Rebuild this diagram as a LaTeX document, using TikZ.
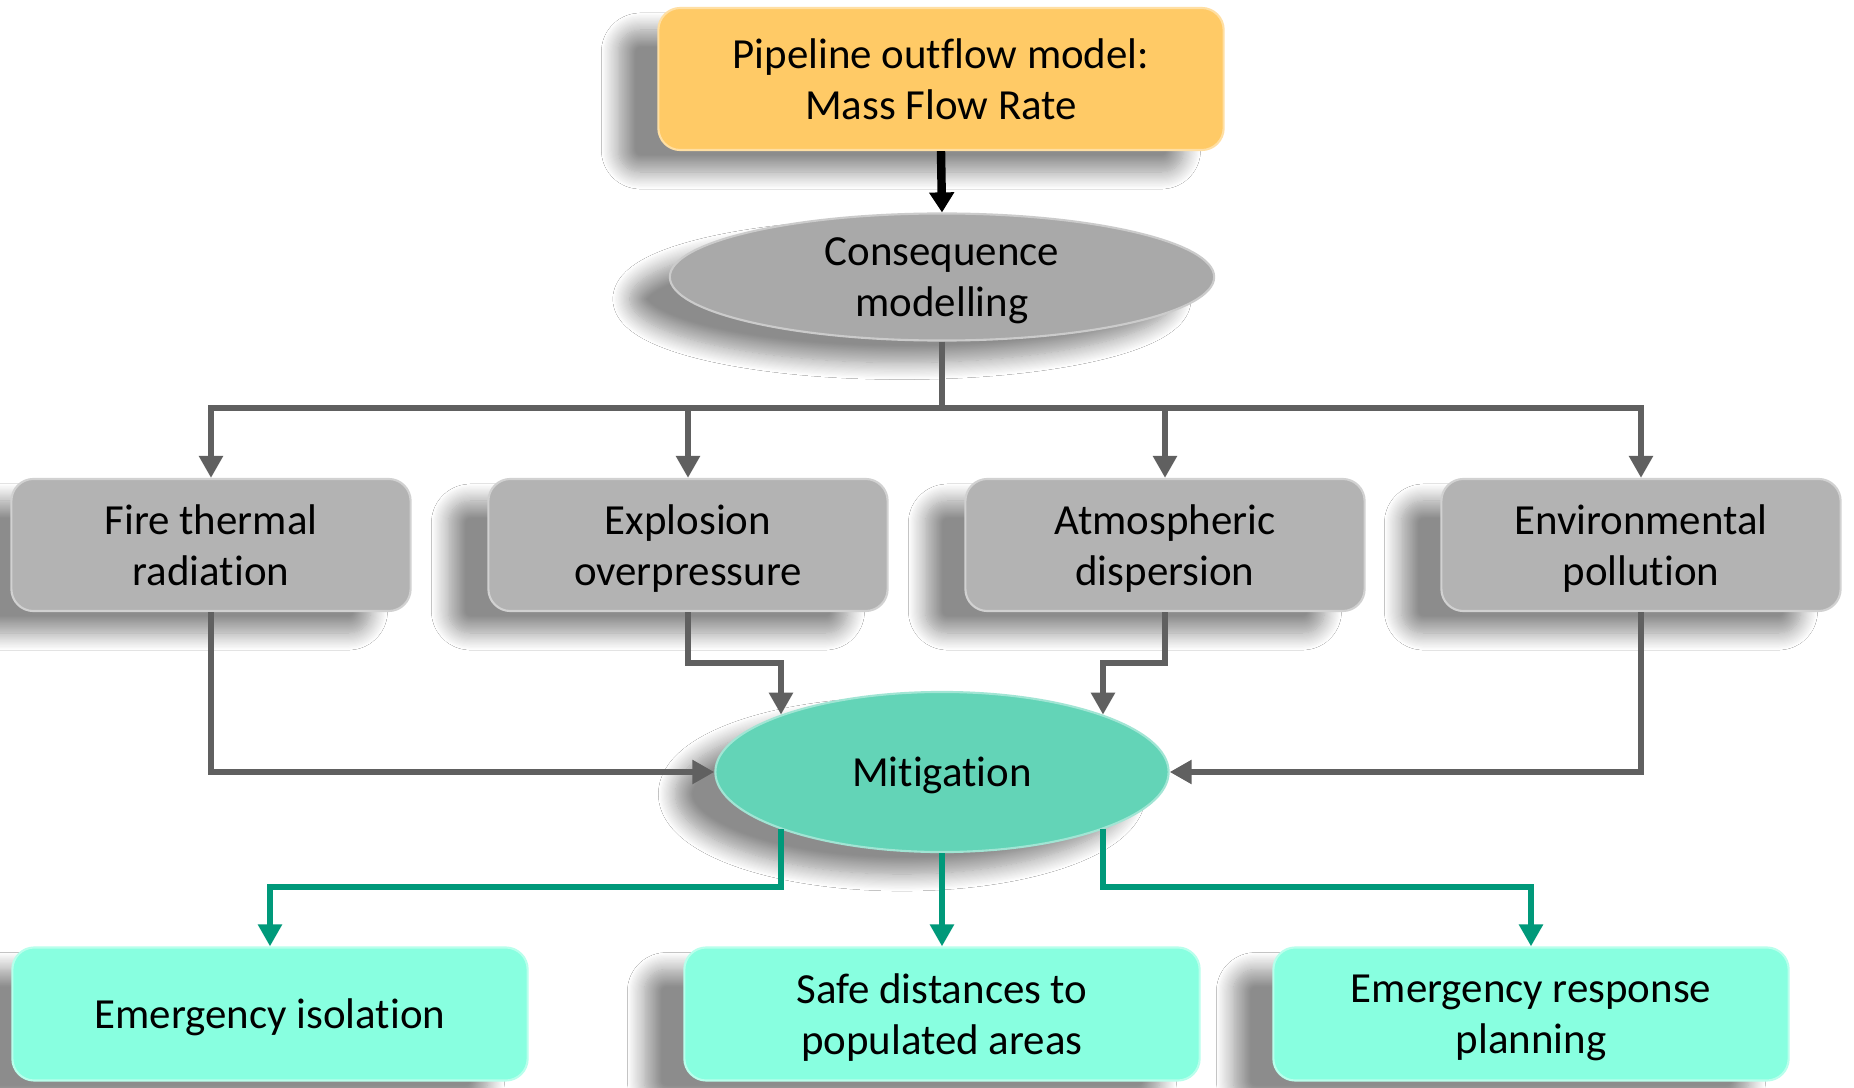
\documentclass[tikz,border=0pt]{standalone}
\usepackage{fontspec}
\setmainfont{Carlito}[Ligatures={NoCommon,NoContextual}]
\usetikzlibrary{shapes.geometric,arrows.meta,shadows.blur}
\definecolor{topfill}{HTML}{FFCA66}
\definecolor{grayfill}{HTML}{B3B3B3}
\definecolor{consfill}{HTML}{A9A9A9}
\definecolor{mitfill}{HTML}{63D4B7}
\definecolor{botfill}{HTML}{88FFE0}
\definecolor{greenline}{HTML}{00997A}
\definecolor{grayline}{HTML}{606060}
\newcommand{\nd}[1]{\raisebox{0pt}[\height][0pt]{#1}}
\tikzset{
  every node/.style={font=\fontsize{12.2}{14.6}\selectfont, align=center, text=black},
  softshadow/.style={blur shadow={shadow xshift=-0.4cm, shadow yshift=-0.22cm, shadow blur radius=0.17cm, shadow blur steps=16, shadow opacity=45}},
  rbox/.style={rectangle, rounded corners=0.22cm, inner sep=0pt, softshadow},
  topbox/.style={rbox, fill=topfill, draw=topfill!60!white, line width=0.6pt, minimum width=5.65cm, minimum height=1.42cm},
  midbox/.style={rbox, fill=grayfill, draw=grayfill!60!white, line width=0.6pt, minimum width=3.99cm, minimum height=1.32cm},
  botbox/.style={rbox, fill=botfill, draw=botfill!60!white, line width=0.6pt, minimum width=5.15cm, minimum height=1.33cm},
  consell/.style={ellipse, inner sep=0pt, fill=consfill, draw=consfill!60!white, line width=0.6pt, minimum width=5.44cm, minimum height=1.27cm, softshadow},
  mitell/.style={ellipse, inner sep=0pt, fill=mitfill, draw=mitfill!60!white, line width=0.6pt, minimum width=4.53cm, minimum height=1.60cm, softshadow},
  blackarrow/.style={draw=black, line width=2.4pt, -{Triangle[width=0.24cm,length=0.2cm]}},
  grayconn/.style={draw=grayline, line width=1.7pt},
  grayarrow/.style={grayconn, -{Triangle[width=0.23cm,length=0.22cm]}},
  greenarrow/.style={draw=greenline, line width=1.7pt, -{Triangle[width=0.23cm,length=0.22cm]}},
}
\begin{document}
\begin{tikzpicture}[x=0.01cm, y=-0.01cm]
\useasboundingbox[fill=white] (0,0) rectangle (1854,1088);

\node[topbox] (top) at (941,79) {Pipeline outflow model:\\Mass Flow Rate};
\node[consell] (cons) at (942,277) {Consequence\\\nd{modelling}};

\node[midbox] (fire) at (211,545) {Fire thermal\\radiation};
\node[midbox] (expl) at (688,545) {Explosion\\\nd{overpressure}};
\node[midbox] (atmo) at (1165,545) {Atmospheric\\\nd{dispersion}};
\node[midbox] (env) at (1641,545) {Environmental\\\nd{pollution}};

\node[mitell] (mit) at (942,772) {\nd{Mitigation}};

\node[botbox] (iso) at (270,1014) {\nd{Emergency isolation}};
\node[botbox] (safe) at (942,1014) {Safe distances to\\\nd{populated areas}};
\node[botbox] (resp) at (1531,1014) {Emergency response\\\nd{planning}};

\coordinate (bus) at (942,408);

\draw[blackarrow] (top.south) -- (cons.north);
\draw[grayconn] (cons.south) -- (bus);
\draw[grayarrow] (bus) -| (fire.north);
\draw[grayarrow] (bus) -| (expl.north);
\draw[grayarrow] (bus) -| (atmo.north);
\draw[grayarrow] (bus) -| (env.north);

\draw[grayarrow] (fire.south) |- (mit.west);
\draw[grayarrow] (env.south) |- (mit.east);
\draw[grayarrow] (expl.south) -- ++(0,51) -| (mit.north west);
\draw[grayarrow] (atmo.south) -- ++(0,51) -| (mit.north east);

\draw[greenarrow] (mit.south west) -- ++(0,58) -| (iso.north);
\draw[greenarrow] (mit.south) -- (safe.north);
\draw[greenarrow] (mit.south east) -- ++(0,58) -| (resp.north);
\end{tikzpicture}
\end{document}
